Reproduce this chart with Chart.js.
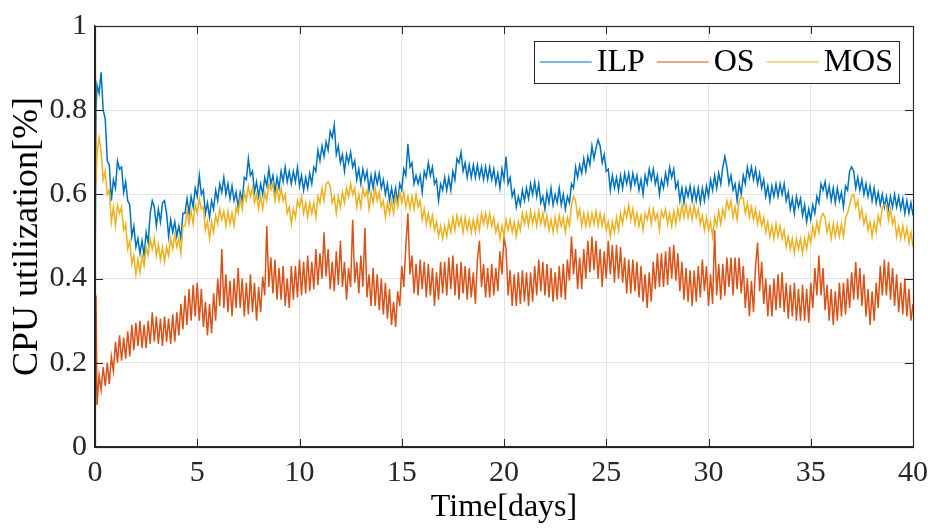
<!DOCTYPE html>
<html>
<head>
<meta charset="utf-8">
<script src="https://cdn.jsdelivr.net/npm/chart.js@4.4.1/dist/chart.umd.min.js"></script>
<style>
  body { margin: 0; background: #fff; }
  #wrap { width: 936px; height: 528px; }
</style>
</head>
<body>
<div id="wrap"><canvas id="myChart" width="936" height="528"></canvas></div>
<script>
// time axis: first samples, then every 0.1 days
let days = [0, 0.05];
for (let i = 1; i <= 400; i++) days.push(+(i * 0.1).toFixed(1));

let xTicks = [0, 5, 10, 15, 20, 25, 30, 35, 40];
let yTicks = [0, 0.2, 0.4, 0.6, 0.8, 1];

let ilp = [0.37, 0.80,
	0.86, 0.84, 0.89, 0.80, 0.78, 0.68, 0.67, 0.585, 0.635, 0.615,
	0.68, 0.66, 0.665, 0.605, 0.63, 0.585, 0.575, 0.50, 0.525, 0.475,
	0.495, 0.46, 0.49, 0.455, 0.51, 0.485, 0.555, 0.585, 0.57, 0.525,
	0.565, 0.535, 0.58, 0.585, 0.555, 0.50, 0.54, 0.51, 0.535, 0.50,
	0.525, 0.495, 0.555, 0.555, 0.59, 0.555, 0.595, 0.57, 0.615, 0.595,
	0.645, 0.60, 0.61, 0.555, 0.58, 0.545, 0.585, 0.565, 0.61, 0.585,
	0.625, 0.605, 0.64, 0.60, 0.625, 0.59, 0.62, 0.585, 0.605, 0.57,
	0.605, 0.585, 0.64, 0.635, 0.685, 0.645, 0.655, 0.605, 0.63, 0.595,
	0.625, 0.60, 0.64, 0.62, 0.66, 0.625, 0.645, 0.605, 0.64, 0.615,
	0.655, 0.63, 0.665, 0.63, 0.655, 0.625, 0.655, 0.63, 0.665, 0.62,
	0.645, 0.61, 0.64, 0.615, 0.65, 0.625, 0.665, 0.655, 0.705, 0.68,
	0.715, 0.69, 0.725, 0.705, 0.75, 0.735, 0.765, 0.695, 0.715, 0.675,
	0.695, 0.655, 0.695, 0.675, 0.70, 0.665, 0.68, 0.635, 0.66, 0.625,
	0.66, 0.635, 0.655, 0.61, 0.645, 0.615, 0.65, 0.625, 0.65, 0.615,
	0.635, 0.60, 0.625, 0.585, 0.615, 0.585, 0.615, 0.58, 0.625, 0.61,
	0.66, 0.645, 0.72, 0.665, 0.675, 0.625, 0.645, 0.625, 0.645, 0.605,
	0.655, 0.64, 0.675, 0.645, 0.665, 0.625, 0.635, 0.585, 0.625, 0.61,
	0.64, 0.61, 0.64, 0.61, 0.655, 0.635, 0.685, 0.675, 0.70, 0.655,
	0.675, 0.64, 0.67, 0.64, 0.67, 0.64, 0.67, 0.64, 0.665, 0.635,
	0.665, 0.635, 0.665, 0.635, 0.66, 0.625, 0.65, 0.615, 0.66, 0.635,
	0.69, 0.625, 0.64, 0.595, 0.61, 0.57, 0.595, 0.575, 0.61, 0.585,
	0.615, 0.59, 0.625, 0.60, 0.63, 0.595, 0.625, 0.58, 0.595, 0.565,
	0.605, 0.58, 0.615, 0.575, 0.60, 0.58, 0.615, 0.575, 0.60, 0.565,
	0.595, 0.58, 0.625, 0.615, 0.665, 0.64, 0.67, 0.65, 0.685, 0.655,
	0.69, 0.67, 0.715, 0.685, 0.71, 0.73, 0.715, 0.675, 0.695, 0.655,
	0.66, 0.61, 0.645, 0.615, 0.64, 0.61, 0.645, 0.615, 0.65, 0.625,
	0.65, 0.615, 0.65, 0.625, 0.645, 0.61, 0.635, 0.60, 0.645, 0.625,
	0.66, 0.635, 0.66, 0.625, 0.645, 0.60, 0.635, 0.615, 0.65, 0.625,
	0.665, 0.64, 0.66, 0.615, 0.63, 0.585, 0.615, 0.58, 0.615, 0.595,
	0.62, 0.585, 0.615, 0.585, 0.615, 0.58, 0.615, 0.585, 0.62, 0.595,
	0.635, 0.61, 0.645, 0.615, 0.65, 0.625, 0.665, 0.69, 0.665, 0.625,
	0.645, 0.61, 0.625, 0.585, 0.625, 0.60, 0.645, 0.625, 0.665, 0.64,
	0.665, 0.635, 0.66, 0.625, 0.65, 0.615, 0.635, 0.595, 0.62, 0.585,
	0.62, 0.595, 0.625, 0.595, 0.625, 0.60, 0.625, 0.585, 0.605, 0.565,
	0.59, 0.555, 0.595, 0.57, 0.59, 0.55, 0.575, 0.535, 0.565, 0.54,
	0.575, 0.555, 0.595, 0.58, 0.625, 0.61, 0.63, 0.595, 0.62, 0.585,
	0.615, 0.58, 0.615, 0.585, 0.605, 0.57, 0.62, 0.61, 0.655, 0.665,
	0.655, 0.615, 0.64, 0.61, 0.635, 0.60, 0.625, 0.595, 0.62, 0.585,
	0.615, 0.58, 0.605, 0.575, 0.60, 0.57, 0.595, 0.565, 0.595, 0.57,
	0.60, 0.57, 0.595, 0.565, 0.59, 0.555, 0.585, 0.555, 0.58, 0.55
];

let os = [0.0, 0.36,
	0.10, 0.17, 0.135, 0.19, 0.145, 0.20, 0.15, 0.215, 0.18, 0.25,
	0.20, 0.265, 0.205, 0.26, 0.21, 0.275, 0.215, 0.29, 0.23, 0.295,
	0.24, 0.30, 0.235, 0.29, 0.235, 0.30, 0.245, 0.32, 0.25, 0.31,
	0.245, 0.305, 0.24, 0.31, 0.25, 0.305, 0.245, 0.315, 0.25, 0.32,
	0.265, 0.34, 0.28, 0.36, 0.29, 0.375, 0.30, 0.385, 0.31, 0.39,
	0.30, 0.375, 0.285, 0.345, 0.265, 0.34, 0.27, 0.365, 0.30, 0.40,
	0.335, 0.47, 0.33, 0.41, 0.32, 0.395, 0.31, 0.40, 0.33, 0.425,
	0.33, 0.40, 0.31, 0.39, 0.315, 0.41, 0.32, 0.39, 0.30, 0.38,
	0.32, 0.405, 0.36, 0.525, 0.38, 0.45, 0.365, 0.445, 0.35, 0.425,
	0.35, 0.43, 0.335, 0.40, 0.33, 0.43, 0.35, 0.43, 0.355, 0.445,
	0.36, 0.44, 0.365, 0.455, 0.37, 0.44, 0.375, 0.47, 0.385, 0.46,
	0.40, 0.51, 0.405, 0.47, 0.375, 0.44, 0.37, 0.465, 0.385, 0.49,
	0.38, 0.44, 0.35, 0.425, 0.38, 0.54, 0.39, 0.44, 0.365, 0.455,
	0.38, 0.52, 0.355, 0.41, 0.335, 0.425, 0.335, 0.41, 0.325, 0.40,
	0.315, 0.39, 0.305, 0.375, 0.29, 0.345, 0.285, 0.37, 0.335, 0.43,
	0.38, 0.48, 0.555, 0.41, 0.455, 0.365, 0.435, 0.36, 0.445, 0.375,
	0.44, 0.355, 0.435, 0.36, 0.425, 0.335, 0.415, 0.35, 0.44, 0.365,
	0.44, 0.36, 0.45, 0.375, 0.455, 0.36, 0.435, 0.35, 0.44, 0.365,
	0.43, 0.35, 0.425, 0.355, 0.415, 0.34, 0.445, 0.49, 0.38, 0.435,
	0.355, 0.425, 0.355, 0.435, 0.36, 0.425, 0.37, 0.465, 0.41, 0.50,
	0.47, 0.36, 0.42, 0.335, 0.41, 0.335, 0.415, 0.34, 0.42, 0.345,
	0.415, 0.335, 0.415, 0.345, 0.43, 0.36, 0.445, 0.37, 0.44, 0.36,
	0.435, 0.355, 0.425, 0.345, 0.415, 0.35, 0.43, 0.355, 0.435, 0.35,
	0.445, 0.395, 0.50, 0.41, 0.47, 0.375, 0.45, 0.375, 0.47, 0.40,
	0.49, 0.415, 0.50, 0.42, 0.49, 0.40, 0.47, 0.38, 0.465, 0.40,
	0.49, 0.41, 0.48, 0.39, 0.48, 0.40, 0.475, 0.39, 0.45, 0.365,
	0.445, 0.365, 0.445, 0.37, 0.44, 0.355, 0.43, 0.345, 0.41, 0.33,
	0.415, 0.345, 0.44, 0.375, 0.46, 0.38, 0.46, 0.38, 0.465, 0.385,
	0.475, 0.40, 0.48, 0.395, 0.46, 0.37, 0.44, 0.35, 0.425, 0.345,
	0.42, 0.335, 0.42, 0.345, 0.43, 0.355, 0.445, 0.37, 0.43, 0.335,
	0.41, 0.34, 0.515, 0.36, 0.435, 0.35, 0.435, 0.36, 0.45, 0.38,
	0.45, 0.36, 0.45, 0.375, 0.45, 0.365, 0.43, 0.33, 0.40, 0.31,
	0.395, 0.32, 0.43, 0.485, 0.37, 0.44, 0.34, 0.40, 0.31, 0.385,
	0.31, 0.40, 0.325, 0.41, 0.33, 0.415, 0.32, 0.39, 0.305, 0.385,
	0.31, 0.39, 0.30, 0.375, 0.30, 0.385, 0.30, 0.375, 0.295, 0.39,
	0.33, 0.425, 0.36, 0.455, 0.36, 0.425, 0.325, 0.385, 0.30, 0.375,
	0.29, 0.37, 0.30, 0.39, 0.31, 0.39, 0.315, 0.40, 0.33, 0.415,
	0.35, 0.44, 0.35, 0.425, 0.335, 0.41, 0.31, 0.375, 0.29, 0.37,
	0.30, 0.39, 0.33, 0.43, 0.36, 0.445, 0.36, 0.44, 0.35, 0.425,
	0.335, 0.41, 0.32, 0.39, 0.315, 0.40, 0.31, 0.375, 0.30, 0.34
];

let mos = [1.0, 0.62,
	0.70, 0.735, 0.70, 0.635, 0.655, 0.60, 0.61, 0.535, 0.57, 0.525,
	0.575, 0.555, 0.57, 0.515, 0.53, 0.47, 0.49, 0.435, 0.455, 0.41,
	0.445, 0.415, 0.455, 0.43, 0.475, 0.455, 0.495, 0.47, 0.495, 0.455,
	0.48, 0.445, 0.475, 0.44, 0.475, 0.455, 0.495, 0.47, 0.505, 0.475,
	0.495, 0.46, 0.525, 0.525, 0.56, 0.53, 0.56, 0.53, 0.575, 0.555,
	0.59, 0.565, 0.57, 0.515, 0.535, 0.495, 0.535, 0.51, 0.55, 0.53,
	0.565, 0.54, 0.56, 0.525, 0.56, 0.53, 0.555, 0.525, 0.57, 0.555,
	0.59, 0.565, 0.605, 0.585, 0.62, 0.595, 0.615, 0.58, 0.60, 0.565,
	0.595, 0.565, 0.605, 0.585, 0.625, 0.61, 0.625, 0.585, 0.615, 0.585,
	0.615, 0.585, 0.60, 0.555, 0.57, 0.53, 0.565, 0.545, 0.585, 0.57,
	0.595, 0.555, 0.58, 0.545, 0.58, 0.555, 0.58, 0.545, 0.595, 0.58,
	0.615, 0.585, 0.625, 0.63, 0.62, 0.58, 0.595, 0.555, 0.595, 0.57,
	0.605, 0.58, 0.615, 0.595, 0.625, 0.60, 0.615, 0.57, 0.60, 0.57,
	0.615, 0.595, 0.61, 0.565, 0.605, 0.58, 0.615, 0.585, 0.605, 0.57,
	0.585, 0.545, 0.58, 0.555, 0.585, 0.555, 0.595, 0.57, 0.605, 0.58,
	0.605, 0.57, 0.595, 0.565, 0.595, 0.565, 0.60, 0.57, 0.585, 0.54,
	0.565, 0.53, 0.555, 0.525, 0.55, 0.515, 0.535, 0.50, 0.525, 0.495,
	0.525, 0.50, 0.535, 0.51, 0.545, 0.515, 0.55, 0.525, 0.545, 0.51,
	0.545, 0.515, 0.54, 0.51, 0.54, 0.51, 0.545, 0.515, 0.555, 0.53,
	0.555, 0.525, 0.555, 0.525, 0.545, 0.51, 0.53, 0.495, 0.525, 0.50,
	0.54, 0.515, 0.54, 0.51, 0.535, 0.50, 0.535, 0.515, 0.555, 0.53,
	0.555, 0.525, 0.56, 0.53, 0.555, 0.525, 0.56, 0.53, 0.555, 0.525,
	0.55, 0.515, 0.54, 0.51, 0.545, 0.515, 0.55, 0.525, 0.545, 0.51,
	0.545, 0.525, 0.575, 0.595, 0.585, 0.545, 0.565, 0.525, 0.555, 0.525,
	0.555, 0.525, 0.555, 0.53, 0.56, 0.525, 0.555, 0.525, 0.55, 0.515,
	0.535, 0.50, 0.535, 0.51, 0.545, 0.515, 0.555, 0.53, 0.565, 0.545,
	0.575, 0.54, 0.565, 0.53, 0.555, 0.525, 0.55, 0.515, 0.555, 0.54,
	0.565, 0.53, 0.565, 0.54, 0.555, 0.515, 0.56, 0.545, 0.565, 0.53,
	0.555, 0.525, 0.56, 0.53, 0.565, 0.54, 0.575, 0.545, 0.575, 0.545,
	0.57, 0.54, 0.575, 0.545, 0.565, 0.53, 0.55, 0.515, 0.545, 0.515,
	0.535, 0.50, 0.545, 0.525, 0.56, 0.53, 0.565, 0.545, 0.585, 0.565,
	0.585, 0.545, 0.57, 0.54, 0.585, 0.595, 0.59, 0.555, 0.58, 0.545,
	0.57, 0.54, 0.565, 0.53, 0.555, 0.525, 0.545, 0.51, 0.535, 0.50,
	0.525, 0.495, 0.53, 0.50, 0.525, 0.495, 0.515, 0.475, 0.50, 0.47,
	0.495, 0.46, 0.495, 0.47, 0.495, 0.46, 0.495, 0.47, 0.505, 0.485,
	0.525, 0.50, 0.535, 0.51, 0.545, 0.555, 0.545, 0.51, 0.53, 0.495,
	0.53, 0.50, 0.53, 0.50, 0.53, 0.50, 0.545, 0.555, 0.575, 0.595,
	0.60, 0.57, 0.585, 0.545, 0.565, 0.53, 0.55, 0.515, 0.535, 0.50,
	0.535, 0.51, 0.55, 0.53, 0.57, 0.575, 0.575, 0.54, 0.565, 0.53,
	0.545, 0.50, 0.525, 0.495, 0.525, 0.495, 0.52, 0.485, 0.51, 0.475
];

const FONT = "'Liberation Serif', 'Times New Roman', serif";
const AXIS = "#262626";

function pts(values) {
	return values.map((v, i) => ({ x: days[i], y: v }));
}

// MATLAB-like box: top/right border and inward tick marks on all sides
const matlabBox = {
	id: "matlabBox",
	afterDatasetsDraw(chart) {
		const { ctx, chartArea: a, scales } = chart;
		const len = 8;
		ctx.save();
		ctx.strokeStyle = AXIS;
		ctx.lineWidth = 1;
		ctx.beginPath();
		xTicks.forEach((t) => {
			const px = Math.round(scales.x.getPixelForValue(t)) + 0.5;
			ctx.moveTo(px, a.bottom); ctx.lineTo(px, a.bottom - len);
			ctx.moveTo(px, a.top); ctx.lineTo(px, a.top + len);
		});
		yTicks.forEach((t) => {
			const py = Math.round(scales.y.getPixelForValue(t)) + 0.5;
			ctx.moveTo(a.left, py); ctx.lineTo(a.left + len, py);
			ctx.moveTo(a.right, py); ctx.lineTo(a.right - len, py);
		});
		ctx.stroke();
		ctx.lineWidth = 1.2;
		ctx.strokeRect(Math.round(a.left) + 0.5, Math.round(a.top) + 0.5,
			Math.round(a.right - a.left), Math.round(a.bottom - a.top));
		ctx.restore();
	}
};

// boxed legend in the upper right corner of the axes
const boxLegend = {
	id: "boxLegend",
	afterDraw(chart) {
		const { ctx, chartArea: a } = chart;
		const sets = chart.data.datasets;
		const lineLen = 52, gap = 5, itemGap = 12, pad = 6, h = 42;
		ctx.save();
		ctx.font = "32px " + FONT;
		const widths = sets.map((d) => ctx.measureText(d.label).width);
		let total = pad * 2;
		widths.forEach((w, i) => { total += lineLen + gap + w + (i < sets.length - 1 ? itemGap : 0); });
		const right = a.right - 14;
		const top = a.top + 15;
		const left = right - total;
		ctx.fillStyle = "#fff";
		ctx.fillRect(left, top, total, h);
		ctx.strokeStyle = AXIS;
		ctx.lineWidth = 1;
		ctx.strokeRect(Math.round(left) + 0.5, top + 0.5, Math.round(total), h);
		let x = left + pad;
		const cy = top + h / 2;
		sets.forEach((d, i) => {
			ctx.strokeStyle = d.borderColor;
			ctx.lineWidth = 1.2;
			ctx.beginPath();
			ctx.moveTo(x, cy); ctx.lineTo(x + lineLen, cy);
			ctx.stroke();
			x += lineLen + gap;
			ctx.fillStyle = "#000";
			ctx.textBaseline = "middle";
			ctx.fillText(d.label, x, cy + 1);
			x += widths[i] + itemGap;
		});
		ctx.restore();
	}
};

var ctx = document.getElementById("myChart");
var chart = new Chart(ctx, {
	type: "line",
	data: {
		datasets: [
			{ label: "ILP", data: pts(ilp), borderColor: "#0072BD", order: 2 },
			{ label: "OS", data: pts(os), borderColor: "#D95319", order: 1 },
			{ label: "MOS", data: pts(mos), borderColor: "#EDB120", order: 0 }
		]
	},
	options: {
		responsive: false,
		devicePixelRatio: 1,
		animation: false,
		layout: { padding: { top: 20, right: 19, left: 0, bottom: 0 } },
		elements: {
			point: { radius: 0 },
			line: { borderWidth: 1.5, tension: 0 }
		},
		plugins: {
			legend: { display: false },
			tooltip: { enabled: false }
		},
		scales: {
			x: {
				type: "linear",
				min: 0,
				max: 40,
				afterBuildTicks: (s) => { s.ticks = xTicks.map((v) => ({ value: v })); },
				afterFit: (s) => { s.height = 81; },
				grid: { color: "#e3e3e3", drawTicks: false },
				border: { color: AXIS, width: 1.2 },
				ticks: { color: "#262626", padding: 8, font: { family: FONT, size: 30 }, maxRotation: 0,
					callback: (v) => String(v) },
				title: { display: true, text: "Time[days]", color: "#000", font: { family: FONT, size: 32 }, padding: { top: 0, bottom: 1 } }
			},
			y: {
				min: 0,
				max: 1,
				afterBuildTicks: (s) => { s.ticks = yTicks.map((v) => ({ value: v })); },
				afterFit: (s) => { s.width = 95; },
				grid: { color: "#e3e3e3", drawTicks: false },
				border: { color: AXIS, width: 1.2 },
				ticks: { color: "#262626", padding: 8, font: { family: FONT, size: 30 },
					callback: (v) => String(+Number(v).toFixed(1)) },
				title: { display: true, text: "CPU utilization[%]", color: "#000", font: { family: FONT, size: 36 }, padding: { top: 6, bottom: 0 } }
			}
		}
	},
	plugins: [matlabBox, boxLegend]
});
</script>
</body>
</html>
